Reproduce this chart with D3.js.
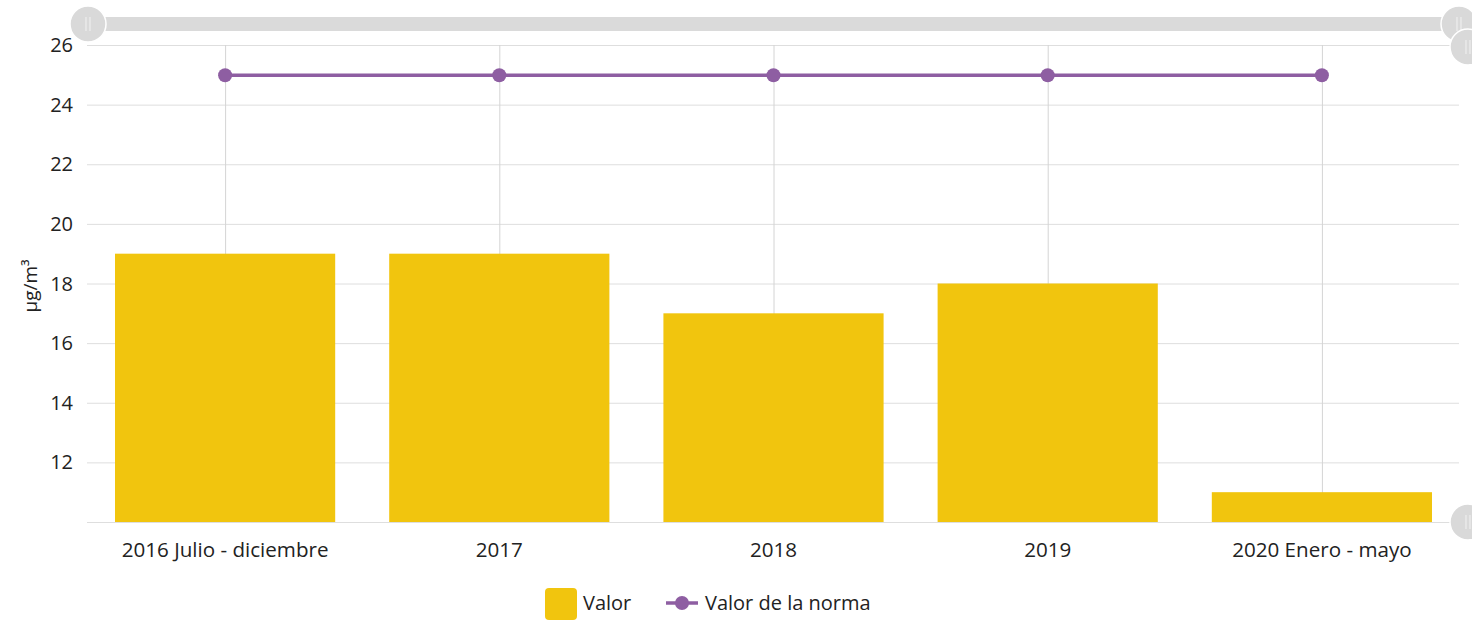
<!DOCTYPE html>
<html lang="es">
<head>
<meta charset="utf-8">
<title>Valor vs norma</title>
<script src="https://cdn.jsdelivr.net/npm/d3@7"></script>
<style>
  body { margin: 0; background: #fff; }
  svg { display: block; font-family: "Open Sans", "Noto Sans", sans-serif; }
</style>
</head>
<body>
<script>
// data
var categories = ["2016 Julio - diciembre", "2017", "2018", "2019", "2020 Enero - mayo"];
var valores = [19, 19, 17, 18, 11];
var norma = [25, 25, 25, 25, 25];
var yTicks = [12, 14, 16, 18, 20, 22, 24, 26];

var w = 1472, h = 627;
var plotL = 88, plotR = 1459, plotT = 45, plotB = 522;
var barColor = "#f1c50e", lineColor = "#8e5ea2";

var svg = d3.select("body").append("svg").attr("width", w).attr("height", h);

var x = d3.scaleBand().domain(categories).range([plotL, plotR]).paddingInner(0).paddingOuter(0);
var y = d3.scaleLinear().domain([10, 26]).range([plotB, plotT]);

var barW = x.bandwidth() * 0.803;

// horizontal grid
svg.append("g").selectAll("line").data(yTicks.concat([10])).enter().append("line")
  .attr("x1", plotL - 1).attr("x2", plotR)
  .attr("y1", function(d) { return y(d) + 0.5; }).attr("y2", function(d) { return y(d) + 0.5; })
  .attr("stroke", "#dedede").attr("stroke-width", 1);

// vertical grid at category centers
svg.append("g").selectAll("line").data(categories).enter().append("line")
  .attr("x1", function(d) { return x(d) + x.bandwidth() / 2 + 0.5; })
  .attr("x2", function(d) { return x(d) + x.bandwidth() / 2 + 0.5; })
  .attr("y1", plotT).attr("y2", plotB)
  .attr("stroke", "#d4d4d4").attr("stroke-width", 1);

// y tick labels
svg.append("g").selectAll("text").data(yTicks).enter().append("text")
  .attr("x", 73).attr("y", function(d) { return y(d) + 7; })
  .attr("text-anchor", "end").attr("font-size", "20px").attr("fill", "#222")
  .text(function(d) { return d; });

// y axis title
svg.append("text")
  .attr("transform", "translate(37,286) rotate(-90)")
  .attr("text-anchor", "middle").attr("font-size", "19px").attr("fill", "#222")
  .text("µg/m³");

// bars
svg.append("g").selectAll("rect").data(valores).enter().append("rect")
  .attr("x", function(d, i) { return x(categories[i]) + (x.bandwidth() - barW) / 2; })
  .attr("y", function(d) { return y(d); })
  .attr("width", barW)
  .attr("height", function(d) { return y(10) - y(d); })
  .attr("fill", barColor);

// x labels
svg.append("g").selectAll("text").data(categories).enter().append("text")
  .attr("x", function(d) { return x(d) + x.bandwidth() / 2; })
  .attr("y", 557)
  .attr("text-anchor", "middle").attr("font-size", "20.6px").attr("fill", "#222")
  .text(function(d) { return d; });

// norma line
var line = d3.line()
  .x(function(d, i) { return x(categories[i]) + x.bandwidth() / 2; })
  .y(function(d) { return y(d) + 0.5; });
svg.append("path").datum(norma).attr("d", line)
  .attr("fill", "none").attr("stroke", lineColor).attr("stroke-width", 3.5);
svg.append("g").selectAll("circle").data(norma).enter().append("circle")
  .attr("cx", function(d, i) { return x(categories[i]) + x.bandwidth() / 2; })
  .attr("cy", function(d) { return y(d) + 0.5; })
  .attr("r", 7).attr("fill", lineColor);

// top zoom slider
svg.append("rect").attr("x", 88).attr("y", 17).attr("width", 1371).attr("height", 14)
  .attr("fill", "#dadada");
function handle(cx, cy) {
  var g = svg.append("g");
  g.append("circle").attr("cx", cx).attr("cy", cy).attr("r", 18)
    .attr("fill", "#d9d9d9").attr("stroke", "#fff").attr("stroke-width", 1.5);
  g.append("line").attr("x1", cx - 2).attr("x2", cx - 2).attr("y1", cy - 7).attr("y2", cy + 7)
    .attr("stroke", "#f2f2f2").attr("stroke-width", 1);
  g.append("line").attr("x1", cx + 2).attr("x2", cx + 2).attr("y1", cy - 7).attr("y2", cy + 7)
    .attr("stroke", "#f2f2f2").attr("stroke-width", 1);
}
handle(88, 24);
handle(1459, 24);
// right vertical slider handles (cut off)
handle(1468, 47);
handle(1468, 522);
// bottom-left handle (cut off)
svg.append("circle").attr("cx", 22).attr("cy", 645).attr("r", 18)
  .attr("fill", "#ececec").attr("stroke", "#fff");

// legend
var lg = svg.append("g");
lg.append("rect").attr("x", 545).attr("y", 588).attr("width", 32).attr("height", 32)
  .attr("rx", 4).attr("fill", barColor);
lg.append("text").attr("x", 583).attr("y", 610).attr("font-size", "20px").attr("fill", "#222").text("Valor");
lg.append("line").attr("x1", 666).attr("x2", 698).attr("y1", 603).attr("y2", 603)
  .attr("stroke", lineColor).attr("stroke-width", 3.5);
lg.append("circle").attr("cx", 682).attr("cy", 603).attr("r", 7).attr("fill", lineColor);
lg.append("text").attr("x", 705).attr("y", 610).attr("font-size", "20px").attr("fill", "#222").text("Valor de la norma");
</script>
</body>
</html>
